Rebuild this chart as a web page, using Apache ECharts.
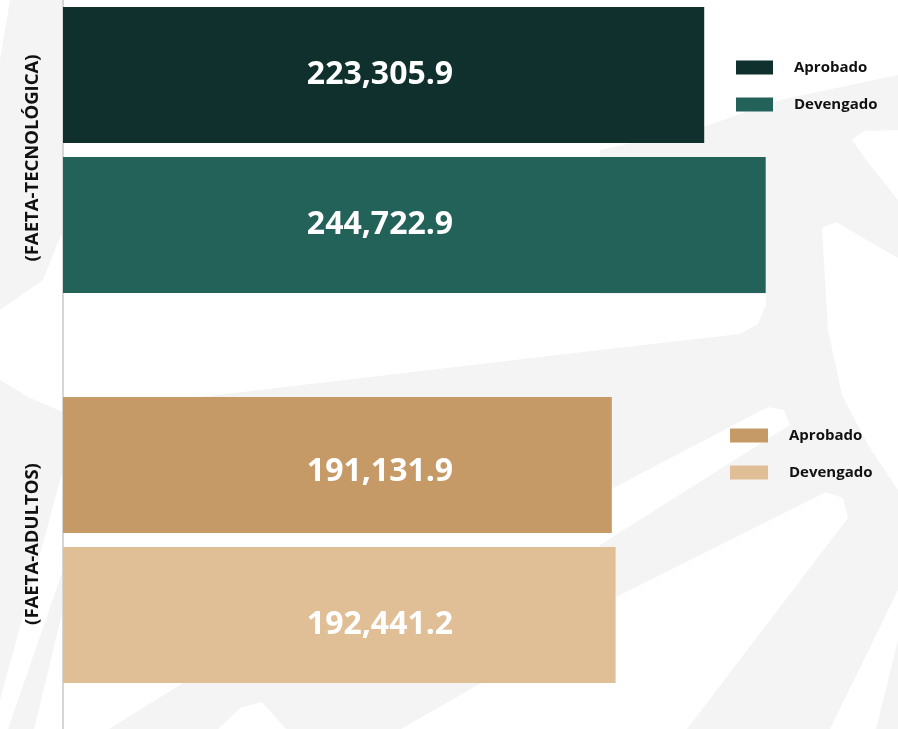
<!DOCTYPE html>
<html>
<head>
<meta charset="utf-8">
<script src="https://cdn.jsdelivr.net/npm/echarts@6/dist/echarts.min.js"></script>
<style>
  html, body { margin: 0; padding: 0; background: #fff; }
  #chart { width: 898px; height: 729px; }
</style>
</head>
<body>
<div id="chart"></div>
<script>
// datos del gráfico
const categories = ['Aprobado', 'Devengado']
const groupNames = ['(FAETA-TECNOLÓGICA)', '(FAETA-ADULTOS)']
const tecnologicaValues = [223305.9, 244722.9]
const adultosValues = [191131.9, 192441.2]
const tecColors = ['#10302e', '#236259']
const aduColors = ['#c59a67', '#e0be96']

const fmt = v => v.toLocaleString('en-US', {minimumFractionDigits: 1, maximumFractionDigits: 1})
const font = 'Open Sans'

const chart = echarts.init(document.getElementById('chart'))

// una serie por barra, para que cada leyenda tenga su color
const buildSeries = (values, colors, grid, tag, dy) => values.map((v, i) => ({
  name: categories[i] + '|' + tag,
  type: 'bar',
  xAxisIndex: grid,
  yAxisIndex: grid,
  data: values.map((_, j) => (j === i ? v : null)),
  barWidth: 136,
  barGap: '-100%',
  z: 5,
  itemStyle: {color: colors[i]},
  label: {
    show: true,
    position: [317, '50%'],
    offset: [0, dy[i]],
    align: 'center',
    verticalAlign: 'middle',
    color: '#fff',
    fontFamily: font,
    fontWeight: 'bold',
    fontSize: 32,
    formatter: p => fmt(p.value)
  }
}))

// padding derecho = desplaza el nombre rotado hacia abajo
const catAxis = (grid, name, shift) => ({
  type: 'category',
  gridIndex: grid,
  data: categories,
  inverse: true,
  axisLine: {show: false},
  axisTick: {show: false},
  axisLabel: {show: false},
  name: name,
  nameLocation: 'middle',
  nameRotate: 90,
  nameGap: 21,
  nameTextStyle: {color: '#111', fontFamily: font, fontWeight: 'bold', fontSize: 18.5, padding: [0, shift, 0, 0]}
})

const valAxis = grid => ({type: 'value', gridIndex: grid, min: 0, max: 280000, show: false})

const legendBase = {
  orient: 'vertical',
  icon: 'rect',
  itemHeight: 14,
  itemGap: 22,
  formatter: n => n.split('|')[0],
  textStyle: {color: '#111', fontFamily: font, fontWeight: 'bold', fontSize: 15, padding: [0, 0, 0, 16]}
}

// fondo decorativo gris claro (aproximado)
const grayShapes = [
  [[10, 0], [63, 0], [63, 230], [43, 280], [0, 310], [0, 60]],
  [[0, 380], [30, 398], [63, 412], [63, 470], [0, 700]],
  [[63, 570], [63, 610], [34, 729], [8, 729]],
  [[600, 150], [700, 128], [780, 100], [898, 75], [898, 729], [600, 729], [600, 350], [740, 334], [758, 324], [766, 305], [766, 294], [600, 294]],
  [[200, 397], [600, 350], [600, 397]],
  [[109, 729], [183, 683], [481, 683], [401, 729], [286, 729], [262, 702], [240, 708], [218, 729]]
]
const whiteShapes = [
  [[852, 140], [864, 131], [898, 130], [898, 200], [866, 160]],
  [[822, 228], [836, 222], [898, 258], [898, 490], [868, 445], [842, 395], [828, 330]],
  [[600, 495], [768, 407], [784, 410], [790, 425], [600, 545]],
  [[600, 605], [826, 492], [843, 498], [848, 518], [687, 729], [600, 729]],
  [[830, 729], [898, 590], [898, 640], [876, 729]]
]
const poly = fill => pts => ({type: 'polygon', silent: true, z: -10, shape: {points: pts}, style: {fill: fill}})

const option = {
  backgroundColor: '#fff',
  animation: false,
  graphic: [...grayShapes.map(poly('#f4f4f4')), ...whiteShapes.map(poly('#fff'))],
  grid: [
    {left: 63, right: 31, top: 0, height: 300},
    {left: 63, right: 31, top: 390, height: 300},
    {left: 63, right: 31, top: 0, bottom: 0}
  ],
  xAxis: [valAxis(0), valAxis(1), {type: 'value', gridIndex: 2, show: false}],
  yAxis: [
    catAxis(0, groupNames[0], 16),
    catAxis(1, groupNames[1], 8),
    {
      type: 'value', gridIndex: 2, min: 0, max: 1,
      axisLine: {show: true, lineStyle: {color: '#d6d6d6', width: 2}},
      axisTick: {show: false}, axisLabel: {show: false}, splitLine: {show: false}
    }
  ],
  legend: [
    Object.assign({}, legendBase, {left: 731, top: 55, itemWidth: 37, data: categories.map(c => c + '|tec')}),
    Object.assign({}, legendBase, {left: 725, top: 423, itemWidth: 38, data: categories.map(c => c + '|adu')})
  ],
  series: [
    ...buildSeries(tecnologicaValues, tecColors, 0, 'tec', [0, 0]),
    ...buildSeries(adultosValues, aduColors, 1, 'adu', [7, 10])
  ]
}

chart.setOption(option)
</script>
</body>
</html>
